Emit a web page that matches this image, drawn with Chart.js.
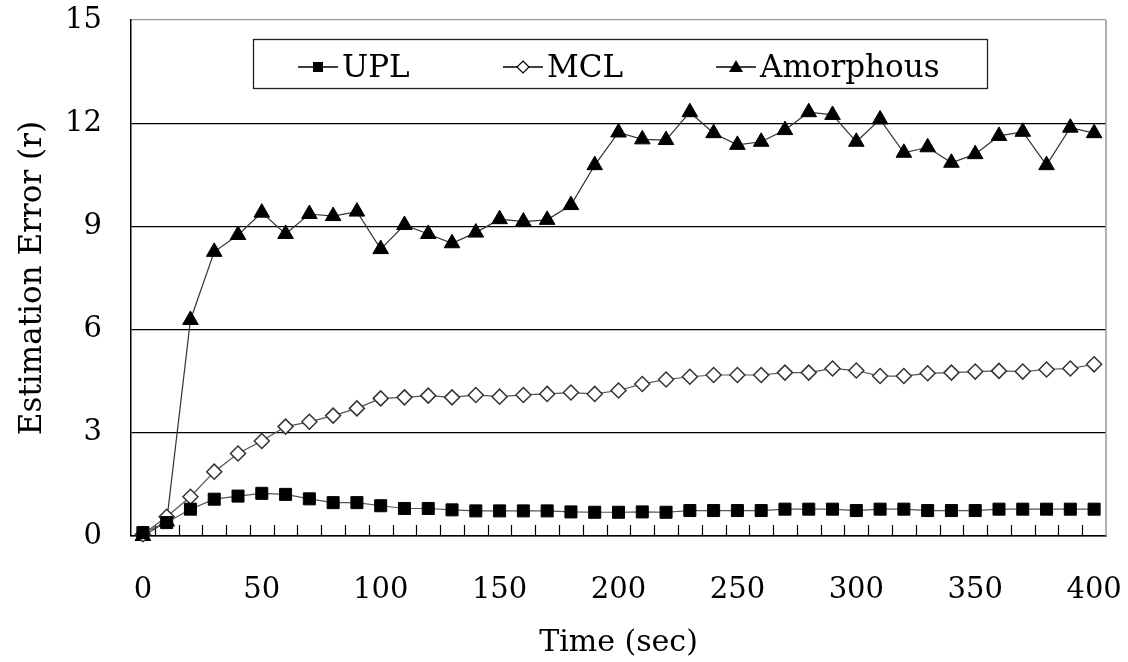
<!DOCTYPE html>
<html>
<head>
<meta charset="utf-8">
<script src="https://cdn.jsdelivr.net/npm/chart.js@4/dist/chart.umd.min.js"></script>
<style>
  body { margin: 0; background: #fff; }
  canvas { display: block; }
</style>
</head>
<body>
<canvas id="myChart" width="1128" height="662"></canvas>
<script>
// time axis (sec), one sample every 10 s
const timeLabels = ['0', '10', '20', '30', '40', '50', '60', '70', '80', '90',
    '100', '110', '120', '130', '140', '150', '160', '170', '180', '190',
    '200', '210', '220', '230', '240', '250', '260', '270', '280', '290',
    '300', '310', '320', '330', '340', '350', '360', '370', '380', '390', '400'];

const upl = [0.1, 0.39, 0.78, 1.07, 1.16, 1.24, 1.21, 1.08, 0.97, 0.97,
    0.88, 0.80, 0.80, 0.76, 0.73, 0.73, 0.73, 0.73, 0.70, 0.69,
    0.69, 0.70, 0.69, 0.74, 0.74, 0.74, 0.74, 0.78, 0.78, 0.78,
    0.74, 0.78, 0.78, 0.74, 0.74, 0.74, 0.78, 0.78, 0.78, 0.78, 0.78];

const mcl = [0.05, 0.56, 1.14, 1.87, 2.40, 2.76, 3.18, 3.32, 3.50, 3.71,
    4.00, 4.03, 4.08, 4.03, 4.10, 4.05, 4.10, 4.13, 4.17, 4.13,
    4.23, 4.42, 4.55, 4.63, 4.68, 4.68, 4.68, 4.75, 4.75, 4.87,
    4.81, 4.65, 4.65, 4.73, 4.75, 4.78, 4.80, 4.78, 4.84, 4.87, 4.99];

const amorphous = [0, 0.42, 6.28, 8.26, 8.75, 9.40, 8.78, 9.36, 9.30, 9.43,
    8.34, 9.04, 8.78, 8.51, 8.82, 9.21, 9.14, 9.19, 9.62, 10.78,
    11.73, 11.53, 11.51, 12.32, 11.71, 11.37, 11.46, 11.80, 12.32, 12.24,
    11.46, 12.11, 11.14, 11.30, 10.85, 11.10, 11.63, 11.75, 10.78, 11.87, 11.71];

const yTicks = [0, 3, 6, 9, 12, 15];

Chart.defaults.font.family = "'DejaVu Serif', serif";
Chart.defaults.color = '#000';

// plot frame: inner tick marks on the time axis, grey right border
const framePlugin = {
    id: 'frame',
    beforeDatasetsDraw(chart) {
        const { ctx, chartArea } = chart;
        const x = chart.scales.x;
        ctx.save();
        ctx.strokeStyle = '#000';
        ctx.lineWidth = 1.2;
        ctx.beginPath();
        for (let i = 1; i < timeLabels.length; i++) {
            const px = Math.round((x.getPixelForValue(i - 1) + x.getPixelForValue(i)) / 2) + 0.5;
            ctx.moveTo(px, chartArea.bottom);
            ctx.lineTo(px, chartArea.bottom - 11);
        }
        ctx.stroke();
        ctx.strokeStyle = '#999';
        ctx.lineWidth = 1.5;
        ctx.beginPath();
        ctx.moveTo(chartArea.right, chartArea.top);
        ctx.lineTo(chartArea.right, chartArea.bottom);
        ctx.stroke();
        ctx.restore();
    }
};

// boxed legend inside the plot area
const legendBox = {
    id: 'legendBox',
    afterDraw(chart) {
        const { ctx } = chart;
        ctx.save();
        ctx.fillStyle = '#fff';
        ctx.fillRect(253, 39, 734, 49);
        ctx.strokeStyle = '#222';
        ctx.lineWidth = 1.3;
        ctx.strokeRect(253.5, 39.5, 734, 49);

        const items = [
            { text: 'UPL', x: 298, style: 'rect' },
            { text: 'MCL', x: 503, style: 'diamond' },
            { text: 'Amorphous', x: 716, style: 'triangle' }
        ];
        const my = 67;
        items.forEach(it => {
            ctx.strokeStyle = '#000';
            ctx.lineWidth = 1.3;
            ctx.beginPath();
            ctx.moveTo(it.x, my);
            ctx.lineTo(it.x + 40, my);
            ctx.stroke();
            const cx = it.x + 20;
            ctx.beginPath();
            if (it.style === 'rect') {
                ctx.fillStyle = '#000';
                ctx.fillRect(cx - 5, my - 5, 10, 10);
            } else if (it.style === 'diamond') {
                ctx.moveTo(cx, my - 6);
                ctx.lineTo(cx + 6, my);
                ctx.lineTo(cx, my + 6);
                ctx.lineTo(cx - 6, my);
                ctx.closePath();
                ctx.fillStyle = '#fff';
                ctx.fill();
                ctx.lineWidth = 1.2;
                ctx.stroke();
            } else {
                ctx.moveTo(cx, my - 7);
                ctx.lineTo(cx + 7, my + 5);
                ctx.lineTo(cx - 7, my + 5);
                ctx.closePath();
                ctx.fillStyle = '#000';
                ctx.fill();
            }
            ctx.fillStyle = '#000';
            ctx.font = "31px 'DejaVu Serif', serif";
            ctx.textBaseline = 'alphabetic';
            ctx.textAlign = 'left';
            ctx.fillText(it.text, it.x + 44, 77);
        });
        ctx.restore();
    }
};

const ctx = document.getElementById('myChart').getContext('2d');
new Chart(ctx, {
    type: 'line',
    data: {
        labels: timeLabels,
        datasets: [{
            label: 'UPL',
            data: upl,
            borderColor: '#555',
            borderWidth: 1.2,
            pointStyle: 'rect',
            pointRadius: 8.5,
            pointBackgroundColor: '#000',
            pointBorderColor: '#000',
            pointBorderWidth: 1,
            clip: false
        }, {
            label: 'MCL',
            data: mcl,
            borderColor: '#555',
            borderWidth: 1.2,
            pointStyle: 'rectRot',
            pointRadius: 7.5,
            pointBackgroundColor: '#fff',
            pointBorderColor: '#333',
            pointBorderWidth: 1.5,
            clip: false
        }, {
            label: 'Amorphous',
            data: amorphous,
            borderColor: '#333',
            borderWidth: 1.2,
            pointStyle: 'triangle',
            pointRadius: 9,
            pointBackgroundColor: '#000',
            pointBorderColor: '#000',
            pointBorderWidth: 1,
            clip: false
        }]
    },
    options: {
        responsive: false,
        animation: false,
        layout: { padding: { left: 0, top: 20, right: 22, bottom: 0 } },
        plugins: {
            legend: { display: false },
            tooltip: { enabled: false }
        },
        scales: {
            x: {
                type: 'category',
                offset: true,
                afterFit(scale) {
                    scale.height = 126;
                    scale.paddingLeft = 0;
                    scale.paddingRight = 0;
                },
                grid: { display: true, drawOnChartArea: false, drawTicks: false },
                border: { display: true, color: '#000', width: 1.5 },
                ticks: {
                    autoSkip: false,
                    maxRotation: 0,
                    padding: 37,
                    font: { size: 29 },
                    callback: (v, i) => (i % 5 === 0 ? timeLabels[i] : '')
                },
                title: {
                    display: true,
                    text: 'Time (sec)',
                    font: { size: 30 },
                    padding: { top: 0, bottom: 1 }
                }
            },
            y: {
                min: 0,
                max: 15,
                afterFit(scale) {
                    scale.width = 131;
                    scale.paddingTop = 0;
                    scale.paddingBottom = 0;
                },
                afterBuildTicks(scale) { scale.ticks = yTicks.map(v => ({ value: v })); },
                grid: {
                    drawTicks: false,
                    lineWidth: 1.3,
                    color: c => (c.tick && c.tick.value === 15 ? '#999' : '#000')
                },
                border: { display: true, color: '#000', width: 1.5 },
                ticks: {
                    padding: 29,
                    font: { size: 29 }
                },
                title: {
                    display: true,
                    text: 'Estimation Error (r)',
                    font: { size: 31 },
                    padding: { top: 14, bottom: 0 }
                }
            }
        }
    },
    plugins: [framePlugin, legendBox]
});
</script>
</body>
</html>
